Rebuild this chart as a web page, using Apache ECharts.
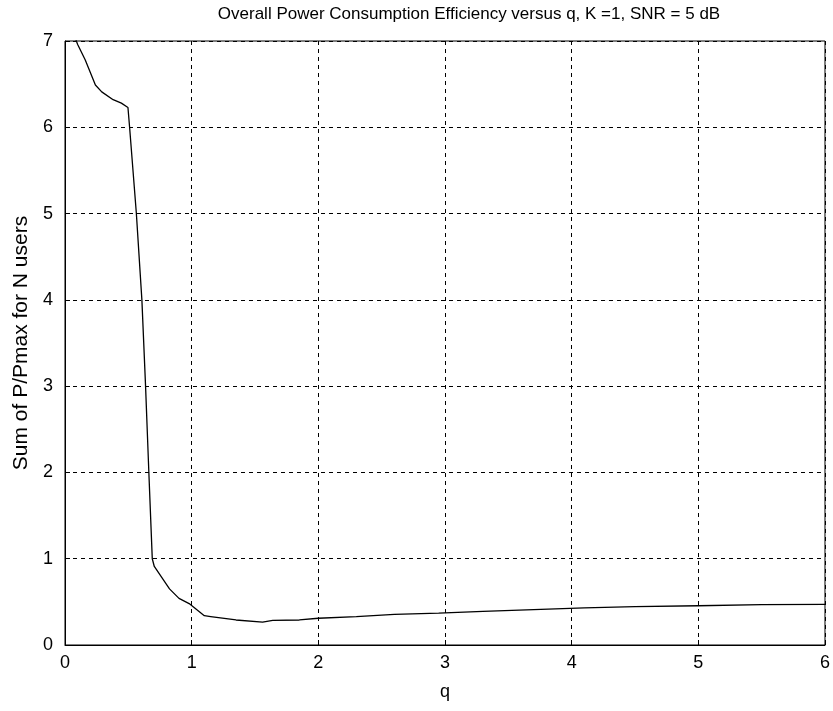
<!DOCTYPE html>
<html>
<head>
<meta charset="utf-8">
<script src="https://cdn.jsdelivr.net/npm/echarts@6/dist/echarts.min.js"></script>
<style>
html,body{margin:0;padding:0;background:#fff;}
#chart{width:833px;height:711px;}
</style>
</head>
<body>
<div id="chart"></div>
<script>
var titleText = "Overall Power Consumption Efficiency versus q, K =1, SNR = 5 dB";
var xName = "q";
var yName = "Sum of P/Pmax for N users";
var qValues = [0, 0.1, 0.16, 0.24, 0.29, 0.38, 0.445, 0.497, 0.51, 0.563, 0.607, 0.636, 0.662, 0.689, 0.705, 0.825, 0.9, 0.98, 1.1, 1.15, 1.35, 1.56, 1.64, 1.85, 2.0, 2.3, 2.6, 2.95, 3.3, 3.7, 4.1, 4.5, 5.0, 5.5, 6.0];
var sumValues = [7.35, 6.96, 6.78, 6.49, 6.41, 6.32, 6.28, 6.23, 6.0, 5.01, 4.0, 3.0, 2.0, 1.0, 0.91, 0.65, 0.54, 0.48, 0.34, 0.33, 0.29, 0.265, 0.285, 0.29, 0.31, 0.33, 0.355, 0.37, 0.39, 0.41, 0.43, 0.445, 0.455, 0.467, 0.47];

var seriesData = qValues.map(function (q, i) { return [q, sumValues[i]]; });
var font = "'Liberation Sans', Arial, sans-serif";

var chart = echarts.init(document.getElementById('chart'), null, {renderer: 'canvas'});
chart.setOption({
  backgroundColor: '#ffffff',
  animation: false,
  title: {
    text: titleText,
    left: 464, top: 1, textAlign: 'center',
    textStyle: {fontFamily: font, fontSize: 17, fontWeight: 'normal', color: '#000'}
  },
  grid: {left: 65, right: 4, top: 41, bottom: 66, show: true, borderColor: '#000', borderWidth: 1, backgroundColor: 'transparent'},
  xAxis: {
    type: 'value', min: 0, max: 6, interval: 1,
    name: xName, nameLocation: 'middle', nameGap: 38,
    nameTextStyle: {fontFamily: font, fontSize: 18, color: '#000'},
    axisLine: {show: true, onZero: false, lineStyle: {color: '#000', width: 1}},
    axisTick: {show: true, inside: true, length: 5, lineStyle: {color: '#000'}},
    axisLabel: {fontFamily: font, fontSize: 18, color: '#000', margin: 9},
    splitLine: {show: true, lineStyle: {color: '#000', type: [4, 4], width: 1}}
  },
  yAxis: {
    type: 'value', min: 0, max: 7, interval: 1,
    name: yName, nameLocation: 'middle', nameGap: 33,
    nameTextStyle: {fontFamily: font, fontSize: 21, color: '#000'},
    axisLine: {show: true, onZero: false, lineStyle: {color: '#000', width: 1}},
    axisTick: {show: true, inside: true, length: 5, lineStyle: {color: '#000'}},
    axisLabel: {fontFamily: font, fontSize: 18, color: '#000', margin: 12},
    splitLine: {show: true, lineStyle: {color: '#000', type: [4, 4], width: 1}}
  },
  series: [{
    type: 'line',
    data: seriesData,
    showSymbol: false,
    symbol: 'none',
    clip: true,
    lineStyle: {color: '#000', width: 1.3},
    z: 5
  }]
});
</script>
</body>
</html>
